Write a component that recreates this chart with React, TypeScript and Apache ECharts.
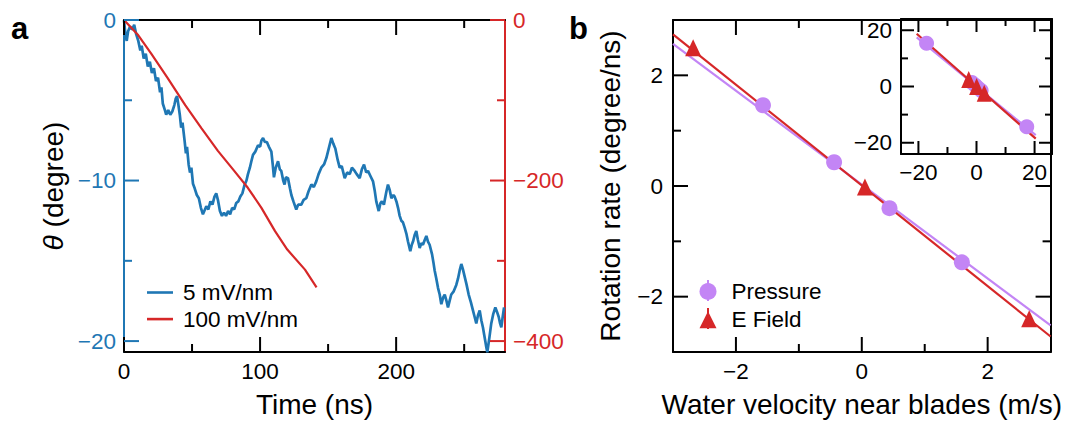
import React, { useEffect, useRef } from 'react';
import * as echarts from 'echarts';

const FONT = "'Liberation Sans', Arial, Helvetica, sans-serif";
const BLUE = '#1f77b4';
const RED = '#d62728';
const PURPLE = '#c385f5';

// ---- Panel a data ----
const timeBlue = [0, 1, 2, 3, 4.5, 6, 7.5, 9, 10.5, 12, 13, 14.5, 16, 17.5, 19, 20.5, 22, 23.5, 25, 26.5, 27.5, 28.5, 30, 31, 32.5, 34, 35.5, 37, 38, 39, 40, 41, 42, 43, 44.5, 45.5, 46.3, 47.5, 48.5, 49.5, 50.7, 52, 53.5, 55, 56.5, 58, 59.5, 60.5, 62, 63.5, 65, 66.5, 67.8, 69, 70.5, 72, 73.5, 75, 76.5, 78, 79.5, 81, 82.5, 84, 85.5, 87, 88.5, 90, 91.1, 92.5, 93.6, 94.8, 96.5, 98.5, 100, 101, 102.2, 103.5, 105, 106.5, 108.3, 109.3, 110.2, 111.5, 113.2, 114.5, 115.6, 117, 118, 119, 120.5, 122, 123, 124.5, 126.6, 128, 130.3, 132, 134, 135.5, 137.7, 139.5, 141.3, 143, 145, 147, 148.7, 150.5, 152.4, 153.8, 155.3, 157, 158.5, 160, 162.2, 164, 165.9, 167.5, 169.5, 171, 173.2, 174.8, 176.4, 178, 179.3, 181, 183, 184.2, 185.4, 187.2, 188.5, 189.5, 191, 192.8, 194, 195.3, 196.5, 198, 198.9, 200.2, 201.4, 202.6, 203.8, 205, 206.3, 207.5, 208.7, 210.4, 211.5, 212.4, 213.6, 214.8, 216, 217.3, 218.5, 219.7, 221, 222.2, 223.4, 224.6, 226.4, 227.4, 228.3, 229.5, 230.8, 232, 233.2, 234.5, 235.7, 237, 238.1, 239.3, 240.5, 242.3, 244.2, 245.5, 246.7, 247.9, 249, 250.4, 251.8, 253.3, 255, 256.5, 257.7, 258.9, 260.1, 261.4, 262.6, 263.8, 264.7, 265.5, 266.3, 267, 268.5, 269.9, 271.4, 272.9, 274.2, 275.4, 276.4, 277.3, 278.3, 279.3];
const thetaBlue = [0, -0.9, -1.3, -0.7, -0.4, -0.6, -0.3, -0.9, -1.3, -1.9, -1.6, -2.4, -2.1, -2.9, -2.6, -3.3, -3.0, -3.8, -3.6, -4.5, -4.2, -5.2, -5.6, -5.9, -5.6, -5.9, -5.7, -5.3, -4.9, -4.75, -5.3, -5.9, -6.7, -6.4, -7.5, -8.3, -7.9, -9.0, -9.5, -9.2, -10.2, -10.5, -10.9, -11.1, -11.7, -12.1, -11.8, -11.6, -11.8, -11.3, -11.5, -11.0, -10.8, -11.2, -11.9, -12.2, -12.0, -12.2, -11.9, -12.1, -11.7, -11.8, -11.4, -11.3, -11.0, -10.8, -10.3, -10.0, -9.6, -9.2, -8.8, -8.4, -8.2, -7.8, -7.9, -7.5, -7.35, -7.6, -7.6, -7.9, -8.2, -9.0, -9.8, -9.2, -8.8, -9.3, -9.4, -10.0, -10.25, -9.8, -9.85, -10.5, -10.9, -11.3, -11.8, -11.5, -11.5, -11.2, -11.1, -10.7, -10.25, -10.4, -10.05, -9.6, -9.2, -9.0, -8.6, -8.0, -7.35, -7.7, -8.0, -8.7, -9.2, -9.1, -9.85, -9.5, -9.6, -9.2, -9.4, -9.6, -9.85, -9.3, -9.0, -9.5, -9.4, -9.7, -10.05, -10.6, -11.3, -11.9, -11.4, -11.3, -11.5, -10.7, -10.25, -10.6, -11.1, -10.9, -11.0, -11.3, -11.7, -12.2, -12.5, -12.6, -12.95, -13.3, -13.8, -14.4, -14.0, -13.8, -13.4, -13.15, -13.7, -14.2, -13.9, -14.0, -13.7, -13.45, -13.8, -14.0, -14.6, -15.1, -15.6, -16.1, -16.7, -17.1, -17.7, -17.3, -17.1, -17.5, -17.9, -17.5, -17.1, -16.9, -16.5, -16.1, -15.6, -15.2, -15.5, -16.0, -16.5, -17.1, -17.6, -18.1, -18.5, -18.9, -18.4, -18.1, -18.7, -19.15, -19.6, -20.0, -20.4, -20.7, -19.8, -18.9, -18.3, -17.9, -18.2, -18.5, -18.9, -19.15, -18.5, -17.9];
const timeRed = [0, 10, 20, 32, 45, 57, 69, 81, 91, 101, 111, 120, 133, 141.5];
const thetaRed = [0, -18, -42, -72, -106, -135, -163, -188, -209, -234, -263, -286, -311, -333];

const timeTicks = [0, 100, 200];
const timeMinor = [50, 150, 250];
const thetaTicks = [0, -10, -20];
const thetaMinor = [-5, -15];
const redTicks = [0, -200, -400];
const redMinor = [-100, -300];

// ---- Panel b data ----
const pressureV = [-1.57, -0.44, 0.44, 1.59];
const pressureRate = [1.46, 0.43, -0.4, -1.38];
const efieldV = [-2.68, 0.05, 2.66];
const efieldRate = [2.5, -0.02, -2.4];
const fitV = [-3, 3];
const fitPressure = [2.57, -2.52];
const fitEField = [2.74, -2.72];

const velTicks = [-2, 0, 2];
const velMinor = [-1, 1];
const velTopTicks = [-2, 0];
const velTopMinor = [-1];
const rateTicks = [-2, 0, 2];
const rateMinor = [-1, 1];
const rateRightTicks = [0, -2];
const rateRightMinor = [-1];

// ---- Inset data ----
const insetPressureV = [-17.2, -1.57, -0.44, 0.44, 1.59, 17.3];
const insetPressureRate = [15.4, 1.46, 0.43, -0.4, -1.38, -14.3];
const insetEfieldV = [-2.68, 0.05, 2.66];
const insetEfieldRate = [2.5, -0.02, -2.4];
const insetFitV = [-20.6, 20.4];
const insetFitPressure = [17.5, -17.3];
const insetFitEField = [18.75, -18.55];
const insetTicks = [-20, 0, 20];
const insetMinor = [-10, 10];

const zip = (xs: number[], ys: number[]) => xs.map((x, i) => [x, ys[i]]);
const minus = (v: number) => String(v).replace('-', '\u2212');

// side: 0 bottom, 1 top, 2 left, 3 right
const spec = (vals: number[], side: number, len: number) => vals.map((v) => [v, side, len]);

function tickSeries(xIdx: number, yIdx: number, data: number[][], color: string, xRef: number, yRef: number): any {
  return {
    type: 'custom',
    xAxisIndex: xIdx,
    yAxisIndex: yIdx,
    silent: true,
    clip: false,
    z: 10,
    data,
    renderItem: (params: any, api: any) => {
      const cs = params.coordSys;
      const v = api.value(0);
      const side = api.value(1);
      const len = api.value(2);
      let shape;
      if (side < 2) {
        const x = api.coord([v, yRef])[0];
        const y0 = side === 0 ? cs.y + cs.height : cs.y;
        const y1 = side === 0 ? y0 - len : y0 + len;
        shape = { x1: x, y1: y0, x2: x, y2: y1 };
      } else {
        const y = api.coord([xRef, v])[1];
        const x0 = side === 2 ? cs.x : cs.x + cs.width;
        const x1 = side === 2 ? x0 + len : x0 - len;
        shape = { x1: x0, y1: y, x2: x1, y2: y };
      }
      return { type: 'line', shape, style: { stroke: color, lineWidth: 2 } };
    },
  };
}

interface AxOpt {
  gridIndex: number;
  position: string;
  min: number;
  max: number;
  ticks: number[];
  color?: string;
  labels?: boolean;
  labelColor?: string;
  margin?: number;
  name?: string;
  nameGap?: number;
}

function ax(o: AxOpt): any {
  const color = o.color || '#000';
  const a: any = {
    type: 'value',
    gridIndex: o.gridIndex,
    position: o.position,
    min: o.min,
    max: o.max,
    axisLine: { show: true, onZero: false, lineStyle: { color, width: 2 } },
    axisTick: { show: false },
    axisLabel: o.labels
      ? {
          show: true,
          customValues: o.ticks,
          formatter: minus,
          color: o.labelColor || '#000',
          fontSize: 22.5,
          fontFamily: FONT,
          margin: o.margin ?? 8,
        }
      : { show: false },
    splitLine: { show: false },
    minorTick: { show: false },
  };
  if (o.name) {
    a.name = o.name;
    a.nameLocation = 'middle';
    a.nameGap = o.nameGap;
    a.nameTextStyle = {
      fontSize: 28,
      color: '#000',
      fontFamily: FONT,
      rich: { it: { fontStyle: 'italic', fontSize: 28, fontFamily: FONT, color: '#000' } },
    };
  }
  return a;
}

export default function App() {
  const ref = useRef<HTMLDivElement>(null);
  useEffect(() => {
    if (!ref.current) return;
    const chart = echarts.init(ref.current, null, { renderer: 'svg' });
    // xAxis: 0 a-bottom, 1 a-top, 2 b-bottom, 3 b-top, 4 inset-bottom, 5 inset-top
    const xAxis = [
      ax({ gridIndex: 0, position: 'bottom', min: 0, max: 280, ticks: timeTicks, labels: true, margin: 8, name: 'Time (ns)', nameGap: 38 }),
      ax({ gridIndex: 0, position: 'top', min: 0, max: 280, ticks: timeTicks }),
      ax({ gridIndex: 1, position: 'bottom', min: -3, max: 3, ticks: velTicks, labels: true, margin: 8, name: 'Water velocity near blades (m/s)', nameGap: 38 }),
      ax({ gridIndex: 1, position: 'top', min: -3, max: 3, ticks: velTopTicks }),
      ax({ gridIndex: 2, position: 'bottom', min: -26, max: 26, ticks: insetTicks, labels: true, margin: 7 }),
      ax({ gridIndex: 2, position: 'top', min: -26, max: 26, ticks: insetTicks }),
    ];
    // yAxis: 0 a-left, 1 a-right, 2 b-left, 3 b-right, 4 inset-left, 5 inset-right
    const yAxis = [
      ax({ gridIndex: 0, position: 'left', min: -20.68, max: 0, ticks: thetaTicks, color: BLUE, labels: true, labelColor: BLUE, margin: 8, name: '{it|θ} (degree)', nameGap: 57 }),
      ax({ gridIndex: 0, position: 'right', min: -413.6, max: 0, ticks: redTicks, color: RED, labels: true, labelColor: RED, margin: 8 }),
      ax({ gridIndex: 1, position: 'left', min: -3, max: 3, ticks: rateTicks, labels: true, margin: 10, name: 'Rotation rate (degree/ns)', nameGap: 49 }),
      ax({ gridIndex: 1, position: 'right', min: -3, max: 3, ticks: rateRightTicks }),
      ax({ gridIndex: 2, position: 'left', min: -24, max: 24, ticks: insetTicks, labels: true, margin: 9 }),
      ax({ gridIndex: 2, position: 'right', min: -24, max: 24, ticks: insetTicks }),
    ];

    const option: any = {
      animation: false,
      backgroundColor: '#fff',
      textStyle: { fontFamily: FONT },
      grid: [
        { left: 124, top: 20, width: 381, height: 333, containLabel: false },
        { left: 673, top: 20, width: 379, height: 334, containLabel: false },
        { left: 901, top: 19, width: 151, height: 135, containLabel: false },
      ],
      xAxis,
      yAxis,
      legend: [
        {
          data: [
            { name: '5 mV/nm', icon: 'rect' },
            { name: '100 mV/nm', icon: 'rect' },
          ],
          orient: 'vertical',
          left: 147,
          top: 281,
          padding: 0,
          itemWidth: 26,
          itemHeight: 2.6,
          itemGap: 3.6,
          textStyle: { fontSize: 22.5, fontFamily: FONT, color: '#000', padding: [0, 0, 0, 5] },
          selectedMode: false,
        },
        {
          data: ['Pressure', 'E Field'],
          orient: 'vertical',
          left: 699.5,
          top: 280,
          padding: 0,
          itemWidth: 17,
          itemHeight: 17,
          itemGap: 5.3,
          textStyle: { fontSize: 22.5, fontFamily: FONT, color: '#000', padding: [0, 0, 0, 10] },
          selectedMode: false,
        },
      ],
      graphic: [
        { type: 'text', left: 11, top: 13, style: { text: 'a', font: `bold 31px ${FONT}`, fill: '#000' } },
        { type: 'text', left: 569, top: 13, style: { text: 'b', font: `bold 31px ${FONT}`, fill: '#000' } },
        { type: 'line', shape: { x1: 708, y1: 280, x2: 708, y2: 301 }, style: { stroke: PURPLE, lineWidth: 2 }, z: -1 },
        { type: 'line', shape: { x1: 708, y1: 308, x2: 708, y2: 329 }, style: { stroke: RED, lineWidth: 2 }, z: -1 },
      ],
      series: [
        {
          type: 'line', name: '5 mV/nm', xAxisIndex: 0, yAxisIndex: 0,
          data: zip(timeBlue, thetaBlue), symbol: 'none',
          lineStyle: { color: BLUE, width: 2.7 }, itemStyle: { color: BLUE },
        },
        {
          type: 'line', name: '100 mV/nm', xAxisIndex: 0, yAxisIndex: 1,
          data: zip(timeRed, thetaRed), symbol: 'none',
          lineStyle: { color: RED, width: 2.2 }, itemStyle: { color: RED },
        },
        {
          type: 'line', name: 'Pressure fit', xAxisIndex: 2, yAxisIndex: 2,
          data: zip(fitV, fitPressure), symbol: 'none',
          lineStyle: { color: PURPLE, width: 2.2 }, z: 2,
        },
        {
          type: 'line', name: 'E Field fit', xAxisIndex: 2, yAxisIndex: 2,
          data: zip(fitV, fitEField), symbol: 'none',
          lineStyle: { color: RED, width: 2.2 }, z: 2,
        },
        {
          type: 'scatter', name: 'Pressure', xAxisIndex: 2, yAxisIndex: 2,
          data: zip(pressureV, pressureRate), symbol: 'circle', symbolSize: 16,
          itemStyle: { color: PURPLE, opacity: 1 }, z: 3,
        },
        {
          type: 'scatter', name: 'E Field', xAxisIndex: 2, yAxisIndex: 2,
          data: zip(efieldV, efieldRate), symbol: 'triangle', symbolSize: [16, 17],
          itemStyle: { color: RED, opacity: 1 }, z: 4,
        },
        {
          type: 'line', name: 'Pressure fit inset', xAxisIndex: 4, yAxisIndex: 4,
          data: zip(insetFitV, insetFitPressure), symbol: 'none',
          lineStyle: { color: PURPLE, width: 2.2 }, z: 5,
        },
        {
          type: 'line', name: 'E Field fit inset', xAxisIndex: 4, yAxisIndex: 4,
          data: zip(insetFitV, insetFitEField), symbol: 'none',
          lineStyle: { color: RED, width: 2.2 }, z: 5,
        },
        {
          type: 'scatter', name: 'Pressure', xAxisIndex: 4, yAxisIndex: 4,
          data: zip(insetPressureV, insetPressureRate), symbol: 'circle', symbolSize: 15,
          itemStyle: { color: PURPLE, opacity: 1 }, z: 6,
        },
        {
          type: 'scatter', name: 'E Field', xAxisIndex: 4, yAxisIndex: 4,
          data: zip(insetEfieldV, insetEfieldRate), symbol: 'triangle', symbolSize: [15, 17],
          itemStyle: { color: RED, opacity: 1 }, z: 7,
        },
        // axis ticks (inward), placed through the axes' own scales
        tickSeries(0, 0, [...spec(timeTicks, 0, 15), ...spec(timeMinor, 0, 8), ...spec(timeTicks, 1, 15), ...spec(timeMinor, 1, 8)], '#000', 0, 0),
        tickSeries(0, 0, [...spec(thetaTicks, 2, 15), ...spec(thetaMinor, 2, 8)], BLUE, 0, 0),
        tickSeries(0, 1, [...spec(redTicks, 3, 15), ...spec(redMinor, 3, 8)], RED, 0, 0),
        tickSeries(2, 2, [
          ...spec(velTicks, 0, 15), ...spec(velMinor, 0, 8),
          ...spec(velTopTicks, 1, 15), ...spec(velTopMinor, 1, 8),
          ...spec(rateTicks, 2, 15), ...spec(rateMinor, 2, 8),
          ...spec(rateRightTicks, 3, 15), ...spec(rateRightMinor, 3, 8),
        ], '#000', 0, 0),
        tickSeries(4, 4, [
          ...spec(insetTicks, 0, 13), ...spec(insetMinor, 0, 7),
          ...spec(insetTicks, 1, 13), ...spec(insetMinor, 1, 7),
          ...spec(insetTicks, 2, 13), ...spec(insetMinor, 2, 7),
          ...spec(insetTicks, 3, 13), ...spec(insetMinor, 3, 7),
        ], '#000', 0, 0),
      ],
    };
    chart.setOption(option);
    return () => chart.dispose();
  }, []);
  return (
    <div
      ref={ref}
      style={{ position: 'fixed', left: 0, top: 0, width: 1065, height: 423, background: '#fff' }}
    />
  );
}
